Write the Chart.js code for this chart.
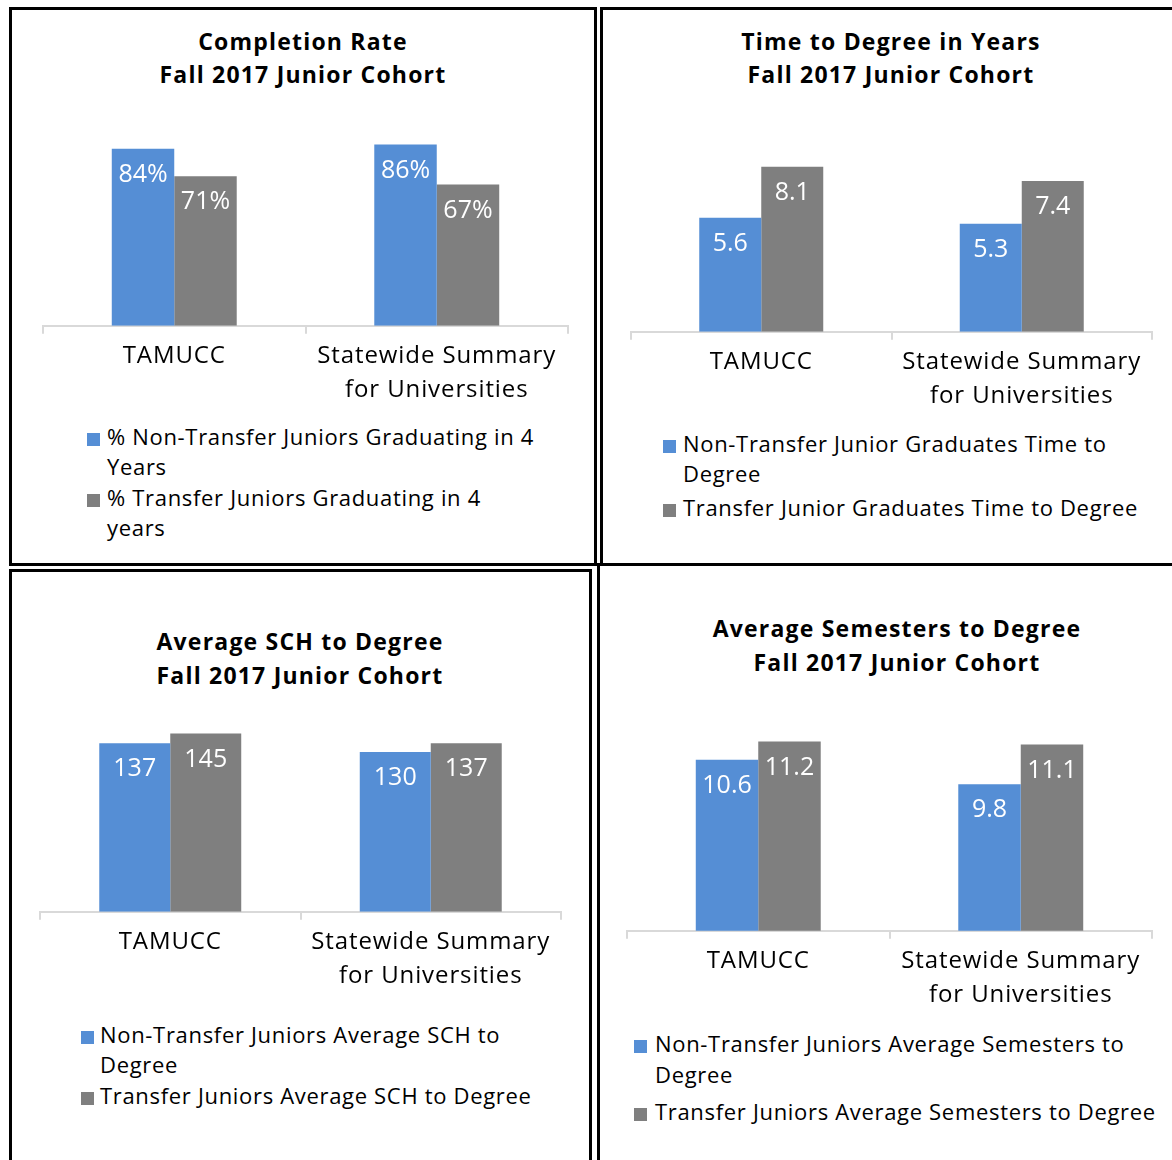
<!DOCTYPE html>
<html>
<head>
<meta charset="utf-8">
<script src="https://cdn.jsdelivr.net/npm/chart.js@4.4.1/dist/chart.umd.min.js"></script>
<style>
  html, body { margin: 0; padding: 0; background: #fff; }
  body { position: relative; width: 1172px; height: 1160px; overflow: hidden; font-family: 'Open Sans', 'Liberation Sans', sans-serif; color: #000; }
  .panel { position: absolute; border: 3px solid #000; box-sizing: border-box; }
  .chart-box { position: absolute; }
  .chart-title { position: absolute; width: 600px; text-align: center; font-weight: bold; font-size: 23px; letter-spacing: 1.2px; white-space: nowrap; }
  .legend { position: absolute; font-size: 22px; letter-spacing: 0.68px; white-space: nowrap; }
  .legend-item { position: relative; }
  .legend-box { position: absolute; left: 0; width: 13px; height: 13px; }
</style>
</head>
<body>

<div class="panel" style="left:9px; top:7px; width:588px; height:559px;"></div>
<div class="panel" style="left:600px; top:7px; width:590px; height:559px;"></div>
<div class="panel" style="left:9px; top:569px; width:583px; height:620px;"></div>
<div class="panel" style="left:597px; top:563px; width:590px; height:620px;"></div>

<div class="chart-title" id="title-completion"></div>
<div class="chart-title" id="title-time"></div>
<div class="chart-title" id="title-sch"></div>
<div class="chart-title" id="title-sem"></div>

<div class="chart-box" style="left:12px; top:10px; width:582px; height:403px;"><canvas id="completionChart"></canvas></div>
<div class="chart-box" style="left:603px; top:10px; width:569px; height:409px;"><canvas id="timeChart"></canvas></div>
<div class="chart-box" style="left:12px; top:572px; width:577px; height:427px;"><canvas id="schChart"></canvas></div>
<div class="chart-box" style="left:600px; top:566px; width:572px; height:452px;"><canvas id="semChart"></canvas></div>

<div class="legend" id="legend-completion"></div>
<div class="legend" id="legend-time"></div>
<div class="legend" id="legend-sch"></div>
<div class="legend" id="legend-sem"></div>

<script>
// --- Data ---
const categories = ['TAMUCC', ['Statewide Summary', 'for Universities']];

const completionNonTransfer = [84, 86];
const completionTransfer = [71, 67];
const timeNonTransfer = [5.6, 5.3];
const timeTransfer = [8.1, 7.4];
const schNonTransfer = [137, 130];
const schTransfer = [145, 137];
const semNonTransfer = [10.6, 9.8];
const semTransfer = [11.2, 11.1];

const completionTitle = ['Completion Rate', 'Fall 2017 Junior Cohort'];
const timeTitle = ['Time to Degree in Years', 'Fall 2017 Junior Cohort'];
const schTitle = ['Average SCH to Degree', 'Fall 2017 Junior Cohort'];
const semTitle = ['Average Semesters to Degree', 'Fall 2017 Junior Cohort'];

// legend names, split the way the original wraps them
const completionNames = [['% Non-Transfer Juniors Graduating in 4', 'Years'], ['% Transfer Juniors Graduating in 4', 'years']];
const timeNames = [['Non-Transfer Junior Graduates Time to', 'Degree'], ['Transfer Junior Graduates Time to Degree']];
const schNames = [['Non-Transfer Juniors Average SCH to', 'Degree'], ['Transfer Juniors Average SCH to Degree']];
const semNames = [['Non-Transfer Juniors Average Semesters to', 'Degree'], ['Transfer Juniors Average Semesters to Degree']];

const BLUE = '#558ed5';
const GRAY = '#7f7f7f';
const AXIS_GRAY = '#d9d9d9';
const FONT = "'Open Sans', 'Liberation Sans', sans-serif";

/* --- Letter spacing for the category labels (the original font is airy) --- */
const spacedText = {
    id: 'spacedText',
    beforeDraw(chart) {
        chart.ctx.letterSpacing = '0.9px';
    },
    afterDraw(chart) {
        chart.ctx.letterSpacing = '0px';
    }
};

/* --- Value labels inside the top of each bar --- */
const valueLabels = {
    id: 'valueLabels',
    afterDatasetsDraw(chart, args, opts) {
        const ctx = chart.ctx;
        ctx.save();
        ctx.letterSpacing = '0px';
        ctx.font = `${opts.size || 25}px ${FONT}`;
        ctx.fillStyle = '#ffffff';
        ctx.textAlign = 'center';
        ctx.textBaseline = 'middle';
        chart.data.datasets.forEach((ds, i) => {
            chart.getDatasetMeta(i).data.forEach((bar, j) => {
                const text = opts.format ? opts.format(ds.data[j]) : String(ds.data[j]);
                ctx.fillText(text, bar.x, bar.y + 26);
            });
        });
        ctx.restore();
    }
};

function makeChart(id, names, seriesA, seriesB, cfg) {
    return new Chart(document.getElementById(id), {
        type: 'bar',
        data: {
            labels: categories,
            datasets: [
                { label: names[0].join(' '), data: seriesA, backgroundColor: BLUE },
                { label: names[1].join(' '), data: seriesB, backgroundColor: GRAY }
            ]
        },
        options: {
            responsive: true,
            maintainAspectRatio: false,
            animation: false,
            categoryPercentage: cfg.groupWidth,
            barPercentage: 1,
            layout: { padding: cfg.padding },
            plugins: {
                legend: { display: false },
                tooltip: { enabled: false },
                valueLabels: { format: cfg.format }
            },
            scales: {
                x: {
                    grid: { drawOnChartArea: false, drawTicks: true, tickLength: 8, color: AXIS_GRAY, lineWidth: 2 },
                    border: { color: AXIS_GRAY, width: 2 },
                    ticks: { color: '#000', padding: 6, maxRotation: 0, autoSkip: false, font: { family: FONT, size: 24, lineHeight: 1.4 } }
                },
                y: { display: false, min: cfg.min, max: cfg.max }
            }
        },
        plugins: [spacedText, valueLabels]
    });
}

function placeTitle(id, lines, centerX, top, lineHeight) {
    const el = document.getElementById(id);
    el.style.left = (centerX - 300) + 'px';
    el.style.top = top + 'px';
    el.style.lineHeight = lineHeight + 'px';
    el.innerHTML = lines.join('<br>');
}

// legend built from the chart's own datasets
function placeLegend(id, chart, names, spec) {
    const el = document.getElementById(id);
    el.style.left = spec.left + 'px';
    el.style.top = (spec.firstLine - spec.lineHeight / 2) + 'px';
    el.style.lineHeight = spec.lineHeight + 'px';
    chart.data.datasets.forEach((ds, i) => {
        const item = document.createElement('div');
        item.className = 'legend-item';
        item.style.paddingLeft = spec.indent + 'px';
        if (i > 0) item.style.marginTop = spec.gap + 'px';
        const box = document.createElement('span');
        box.className = 'legend-box';
        box.style.background = ds.backgroundColor;
        box.style.top = (spec.lineHeight / 2 + 3 - 6.5) + 'px';
        item.appendChild(box);
        item.insertAdjacentHTML('beforeend', names[i].join('<br>'));
        el.appendChild(item);
    });
}

document.addEventListener('DOMContentLoaded', () => {
    Chart.defaults.font.family = FONT;

    const c1 = makeChart('completionChart', completionNames, completionNonTransfer, completionTransfer, {
        groupWidth: 0.476, min: 0, max: 100, format: v => v + '%',
        padding: { left: 31, right: 26, top: 105, bottom: 0 }
    });
    const c2 = makeChart('timeChart', timeNames, timeNonTransfer, timeTransfer, {
        groupWidth: 0.476, min: 0, max: 10, format: v => v.toFixed(1),
        padding: { left: 28, right: 20, top: 118, bottom: 0 }
    });
    const c3 = makeChart('schChart', schNames, schNonTransfer, schTransfer, {
        groupWidth: 0.545, min: 0, max: 160, format: v => String(v),
        padding: { left: 28, right: 28, top: 143, bottom: 0 }
    });
    const c4 = makeChart('semChart', semNames, semNonTransfer, semTransfer, {
        groupWidth: 0.476, min: 5, max: 12, format: v => v.toFixed(1),
        padding: { left: 27, right: 20, top: 151, bottom: 0 }
    });

    placeTitle('title-completion', completionTitle, 303, 25, 33);
    placeTitle('title-time', timeTitle, 891, 25, 33);
    placeTitle('title-sch', schTitle, 300, 624, 34);
    placeTitle('title-sem', semTitle, 897, 611, 34);

    placeLegend('legend-completion', c1, completionNames, { left: 87, indent: 20, firstLine: 436, lineHeight: 30.5, gap: 0 });
    placeLegend('legend-time', c2, timeNames, { left: 663, indent: 20, firstLine: 443, lineHeight: 30, gap: 4 });
    placeLegend('legend-sch', c3, schNames, { left: 81, indent: 19, firstLine: 1034, lineHeight: 30.5, gap: 0 });
    placeLegend('legend-sem', c4, semNames, { left: 634, indent: 21, firstLine: 1043, lineHeight: 31, gap: 6 });
});
</script>
</body>
</html>
